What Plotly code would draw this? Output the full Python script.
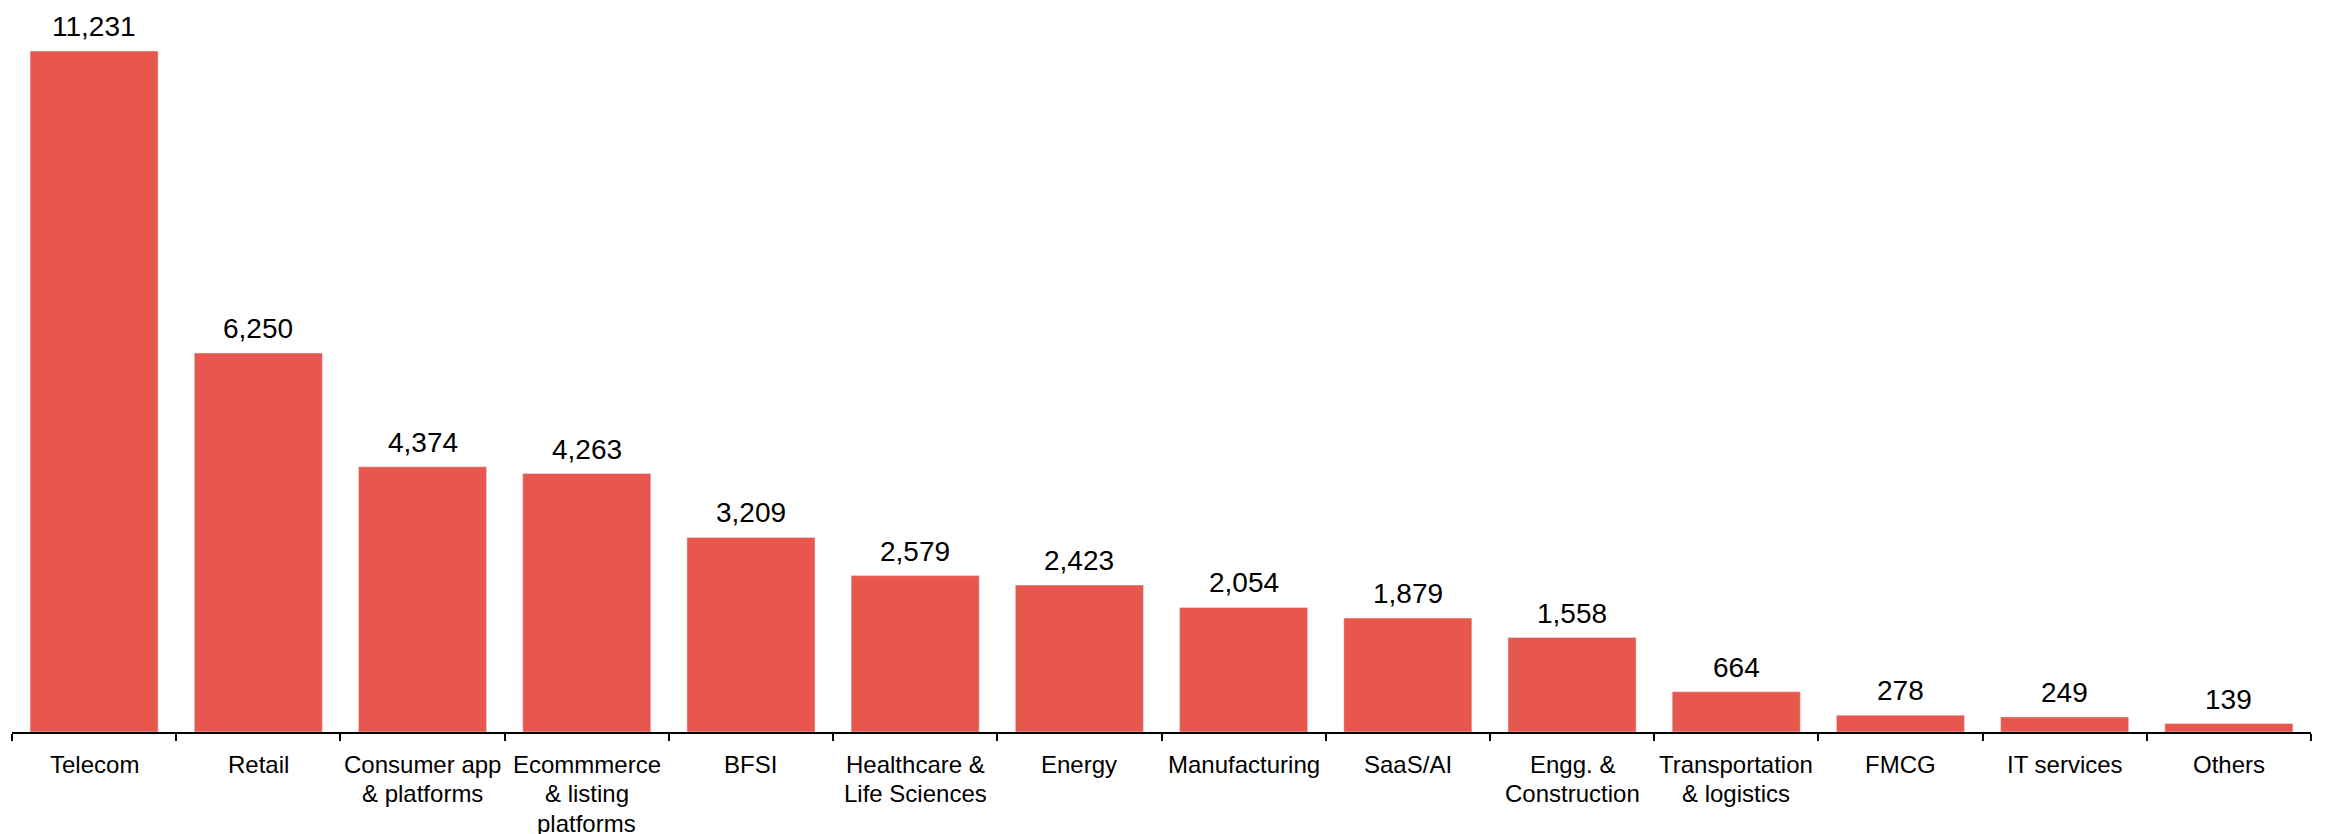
import plotly.graph_objects as go

# Data
categories = ['Telecom', 'Retail', 'Consumer app<br>& platforms', 'Ecommmerce<br>& listing<br>platforms',
              'BFSI', 'Healthcare &<br>Life Sciences', 'Energy', 'Manufacturing', 'SaaS/AI',
              'Engg. &<br>Construction', 'Transportation<br>& logistics', 'FMCG', 'IT services', 'Others']
values = [11231, 6250, 4374, 4263, 3209, 2579, 2423, 2054, 1879, 1558, 664, 278, 249, 139]

bar_color = '#E8574D'

fig = go.Figure(go.Bar(
    x=categories,
    y=values,
    marker_color=bar_color,
    cliponaxis=False,
))

# value labels above the bars
for c, v in zip(categories, values):
    fig.add_annotation(x=c, y=v, text=f'{v:,}', showarrow=False, yanchor='bottom',
                       yshift=7, font=dict(size=28, color='black'))

# category labels, one annotation per line so the line spacing can be tighter
for c in categories:
    for i, line in enumerate(c.split('<br>')):
        fig.add_annotation(x=c, y=0, text=line, showarrow=False, yanchor='middle',
                           yshift=-32 - i * 29.5, font=dict(size=24, color='black'))

# page body adds an 8px offset, margins compensate for it
fig.update_layout(
    width=2341, height=834,
    plot_bgcolor='white', paper_bgcolor='white',
    font=dict(family='Liberation Sans, Arial, sans-serif', color='black'),
    margin=dict(l=4, r=38, t=43, b=110),
    bargap=0.22,
    showlegend=False,
)
fig.update_xaxes(
    showline=True, linecolor='black', linewidth=2,
    ticks='outside', tickson='boundaries', ticklen=7, tickcolor='black', tickwidth=2,
    showticklabels=False, automargin=False,
    showgrid=False,
)
fig.update_yaxes(visible=False, range=[0, 11231], showgrid=False)

fig.write_html('out.html')
